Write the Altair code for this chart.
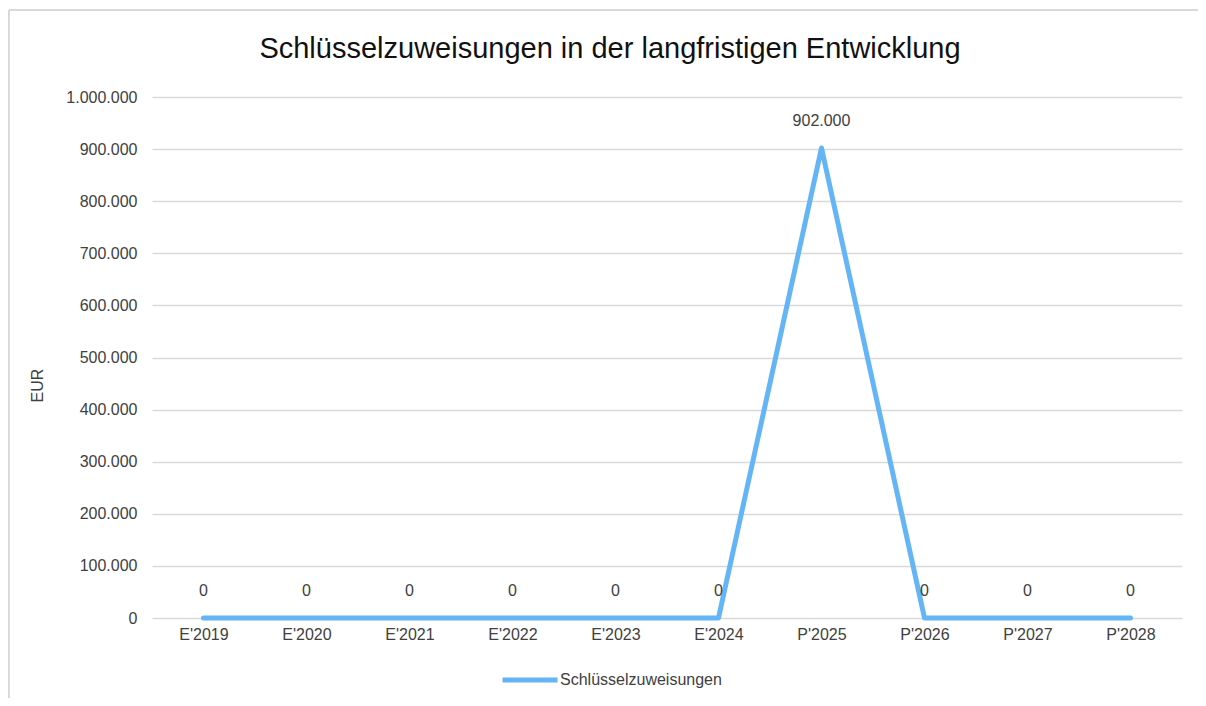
import altair as alt
import pandas as pd

categories = ["E'2019", "E'2020", "E'2021", "E'2022", "E'2023", "E'2024",
              "P'2025", "P'2026", "P'2027", "P'2028"]
values = [0, 0, 0, 0, 0, 0, 902000, 0, 0, 0]
series_name = "Schlüsselzuweisungen"
y_ticks = [0, 100000, 200000, 300000, 400000, 500000, 600000, 700000, 800000, 900000, 1000000]

df = pd.DataFrame({"Jahr": categories, "Wert": values, "Serie": series_name})
df["Label"] = df["Wert"].map(lambda v: f"{v:,.0f}".replace(",", "."))

FONT = "Liberation Sans"
LINE_COLOR = "#64B5F6"

x_enc = alt.X("Jahr:N", sort=categories,
              scale=alt.Scale(type="point", padding=0.5),
              axis=alt.Axis(title=None, labelAngle=0, ticks=False, domain=False,
                            grid=False, labelPadding=8, labelFontSize=16,
                            labelColor="#404040", labelFont=FONT))
y_enc = alt.Y("Wert:Q",
              scale=alt.Scale(domain=[0, 1000000], nice=False),
              axis=alt.Axis(title="EUR", values=y_ticks, ticks=False, domain=False,
                            labelExpr="replace(format(datum.value, ',d'), /,/g, '.')",
                            labelPadding=15, labelFontSize=16, labelColor="#404040",
                            labelFont=FONT, gridColor="#d9d9d9", gridWidth=1.3,
                            titleFont=FONT, titleFontSize=16, titleFontWeight="normal",
                            titleColor="#404040", titleX=-115, titleY=288,
                            titleAngle=270, titleAlign="center", titleBaseline="middle"))

line = alt.Chart(df).mark_line(strokeWidth=5, strokeCap="round", strokeJoin="round").encode(
    x=x_enc,
    y=y_enc,
    color=alt.Color("Serie:N", scale=alt.Scale(range=[LINE_COLOR]),
                    legend=alt.Legend(title=None, orient="none", legendX=348, legendY=553,
                                      symbolType="stroke", symbolStrokeWidth=5,
                                      symbolSize=3025, labelFontSize=16, labelFont=FONT,
                                      labelColor="#404040", labelOffset=0, labelLimit=400)),
)

labels = alt.Chart(df).mark_text(dy=-27, fontSize=16, font=FONT, color="#404040",
                                 baseline="middle").encode(
    x=alt.X("Jahr:N", sort=categories),
    y="Wert:Q",
    text="Label:N",
)

frame_df = pd.DataFrame({"k": [0]})
frame_top = alt.Chart(frame_df).mark_rule(color="#d9d9d9", strokeWidth=2).encode(
    x=alt.value(-143), x2=alt.value(1100), y=alt.value(-87))
frame_left = alt.Chart(frame_df).mark_rule(color="#d9d9d9", strokeWidth=2).encode(
    x=alt.value(-143), y=alt.value(-87), y2=alt.value(700))

chart = alt.layer(frame_top, frame_left, line, labels).properties(
    width=1030,
    height=521,
    autosize=alt.AutoSizeParams(type="none"),
    padding={"left": 144, "top": 89, "right": 16, "bottom": 80},
    background="white",
    title=alt.TitleParams("Schlüsselzuweisungen in der langfristigen Entwicklung",
                          font=FONT, fontSize=29, fontWeight="normal", color="#111111",
                          anchor="middle", dx=-57, offset=-55),
).configure_view(stroke=None).configure_legend(symbolStrokeWidth=5)

chart.save("out.html", embed_options={"renderer": "svg", "actions": False})
